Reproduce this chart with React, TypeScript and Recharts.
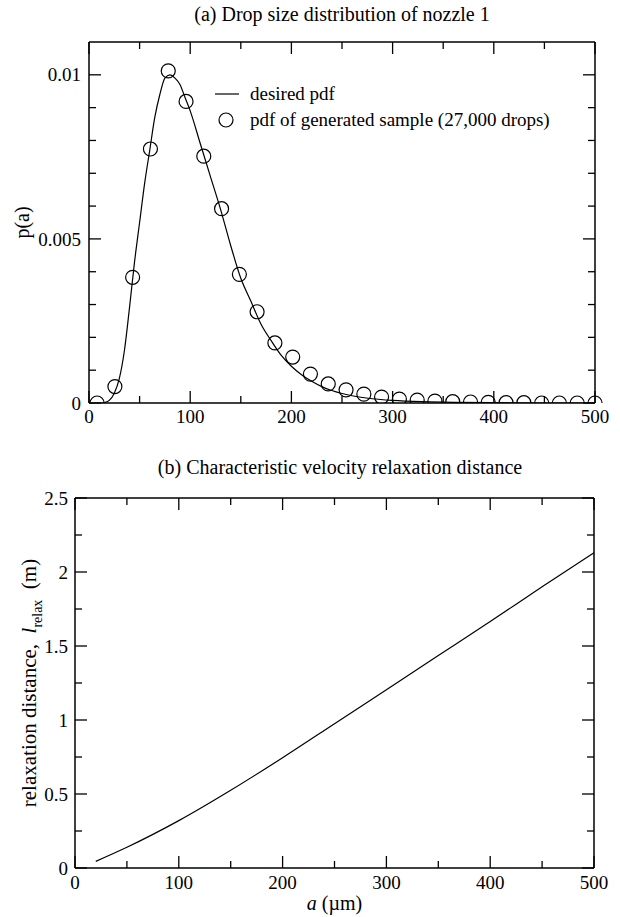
import { ComposedChart, LineChart, Line, Scatter, XAxis, YAxis, Legend } from 'recharts'

// (a) desired pdf curve
const pdfA = [12, 15, 20, 25, 30, 35, 40, 45, 50, 55, 60, 65, 70, 75, 80, 85, 90, 95, 100, 110, 120, 130, 140, 150, 160, 170, 180, 190, 200, 210, 220, 230, 240, 260, 280, 300, 330, 360, 400, 450, 500]
const pdfP = [0, 0.00001, 0.00008, 0.0003, 0.00075, 0.0016, 0.0029, 0.0043, 0.0055, 0.0067, 0.0077, 0.0087, 0.0094, 0.0099, 0.01, 0.0099, 0.0097, 0.0093, 0.0089, 0.0079, 0.0069, 0.0059, 0.0048, 0.0038, 0.0031, 0.0024, 0.0019, 0.00145, 0.00112, 0.00086, 0.00066, 0.0005, 0.00038, 0.00022, 0.00013, 0.00008, 0.00004, 0.00002, 0.00001, 0, 0]

// (a) generated sample, 27,000 drops
const sampleA = [8, 25.6, 43.1, 60.7, 78.3, 95.9, 113.4, 131, 148.6, 166.1, 183.7, 201.3, 218.8, 236.4, 254, 271.6, 289.1, 306.7, 324.3, 341.8, 359.4, 377, 394.5, 412.1, 429.7, 447.3, 464.8, 482.4, 500]
const sampleP = [0, 0.0005, 0.00383, 0.00774, 0.01012, 0.00919, 0.00752, 0.00592, 0.00392, 0.00278, 0.00183, 0.0014, 0.00088, 0.00058, 0.0004, 0.00027, 0.00018, 0.00012, 0.00009, 0.00006, 0.00004, 0.00003, 0.00002, 0.00001, 0.00001, 0, 0, 0, 0]

// (b) relaxation distance
const relaxA = [20, 50, 100, 150, 200, 250, 300, 350, 400, 450, 500]
const relaxL = [0.045, 0.14, 0.32, 0.525, 0.745, 0.975, 1.205, 1.435, 1.665, 1.9, 2.13]

const aTicks = [0, 50, 100, 150, 200, 250, 300, 350, 400, 450, 500]
const pTicks = [0, 0.001, 0.002, 0.003, 0.004, 0.005, 0.006, 0.007, 0.008, 0.009, 0.01]
const lTicks = [0, 0.25, 0.5, 0.75, 1, 1.25, 1.5, 1.75, 2, 2.25, 2.5]

const curveData = pdfA.map((a, i) => ({ a, p: pdfP[i] }))
const sampleData = sampleA.map((a, i) => ({ a, p: sampleP[i] }))
const relaxData = relaxA.map((a, i) => ({ a, l: relaxL[i] }))

const FONT = '"Liberation Serif", "Times New Roman", serif'
const MAJ = 12
const MIN = 7

const isMult = (v: number, step: number) => Math.abs(v / step - Math.round(v / step)) < 1e-6
const fmt = (v: number) => String(Number(v.toFixed(4)))

function tickFactory(side: string, step: number, labels: boolean, gap: number) {
  return (props: any) => {
    const { x, y, payload } = props
    const v = payload.value
    const major = isMult(v, step)
    const len = major ? MAJ : MIN
    let line = null
    let label = null
    if (side === 'bottom') {
      line = <line x1={x} y1={y} x2={x} y2={y - len} stroke="#000" strokeWidth={1.3} />
      if (labels && major) label = <text x={x} y={y + gap} textAnchor="middle" fontFamily={FONT} fontSize={19} fill="#000">{fmt(v)}</text>
    } else if (side === 'top') {
      line = <line x1={x} y1={y} x2={x} y2={y + len} stroke="#000" strokeWidth={1.3} />
    } else if (side === 'left') {
      line = <line x1={x} y1={y} x2={x + len} y2={y} stroke="#000" strokeWidth={1.3} />
      if (labels && major) label = <text x={x - gap} y={y} dy="0.35em" textAnchor="end" fontFamily={FONT} fontSize={19} fill="#000">{fmt(v)}</text>
    } else {
      line = <line x1={x} y1={y} x2={x - len} y2={y} stroke="#000" strokeWidth={1.3} />
    }
    return <g>{line}{label}</g>
  }
}

const axisLine = { stroke: '#000', strokeWidth: 1.5 }

function PdfLegend(props: any) {
  const items = (props.payload || []).filter((it: any) => it.type !== 'none')
    .sort((a: any, b: any) => (a.type === 'line' ? -1 : 1) - (b.type === 'line' ? -1 : 1))
  return (
    <div style={{ fontFamily: FONT, fontSize: 19, color: '#000' }}>
      {items.map((it: any) => (
        <div key={it.value} style={{ display: 'flex', alignItems: 'center', height: 26 }}>
          <svg width={36} height={26}>
            {it.type === 'line'
              ? <line x1={6} y1={13} x2={30} y2={13} stroke="#000" strokeWidth={1.2} />
              : <circle cx={17} cy={13} r={7} fill="none" stroke="#000" strokeWidth={1.2} />}
          </svg>
          <span style={{ marginLeft: 5 }}>{it.value}</span>
        </div>
      ))}
    </div>
  )
}

const SampleCircle = (props: any) => <circle cx={props.cx} cy={props.cy} r={7} fill="none" stroke="#000" strokeWidth={1.2} />

function PLabel(props: any) {
  const { viewBox } = props
  const cx = 22
  const cy = viewBox.y + viewBox.height / 2
  return <text x={cx} y={cy} transform={`rotate(-90, ${cx}, ${cy})`} textAnchor="middle" dy="0.35em" fontFamily={FONT} fontSize={20} fill="#000">p(a)</text>
}

function LLabel(props: any) {
  const { viewBox } = props
  const cx = 29
  const cy = viewBox.y + viewBox.height / 2
  return (
    <text x={cx} y={cy} transform={`rotate(-90, ${cx}, ${cy})`} textAnchor="middle" dy="0.35em" fontFamily={FONT} fontSize={21} fill="#000">
      relaxation distance,{'\u00a0\u00a0'}<tspan fontStyle="italic">l</tspan>
      <tspan fontSize={14} dy="6">relax</tspan>
      <tspan dy="-6">{'\u00a0\u00a0'}(m)</tspan>
    </text>
  )
}

function ALabel(props: any) {
  const { viewBox } = props
  const cx = viewBox.x + viewBox.width / 2
  return (
    <text x={cx} y={viewBox.y + 42} textAnchor="middle" fontFamily={FONT} fontSize={20} fill="#000">
      <tspan fontStyle="italic">a</tspan> (µm)
    </text>
  )
}

const titleStyle: any = { position: 'absolute', textAlign: 'center', fontFamily: FONT, fontSize: 20, color: '#000' }

export default function App() {
  return (
    <div style={{ position: 'absolute', left: 0, top: 0, width: 620, height: 917, background: '#fff' }}>
      <div style={{ ...titleStyle, top: 3, left: 89, width: 506 }}>(a) Drop size distribution of nozzle 1</div>
      <div style={{ position: 'absolute', left: 0, top: 0 }}>
        <ComposedChart width={620} height={450} margin={{ top: 41, right: 24, bottom: 0, left: 0 }}>
          <XAxis dataKey="a" type="number" domain={[0, 500]} ticks={aTicks} interval={0} height={47}
            axisLine={axisLine} tickLine={false} tickSize={0} tickMargin={0} tick={tickFactory('bottom', 100, true, 20)} />
          <XAxis xAxisId="top" dataKey="a" orientation="top" type="number" domain={[0, 500]} ticks={aTicks} interval={0} height={1}
            axisLine={axisLine} tickLine={false} tickSize={0} tickMargin={0} tick={tickFactory('top', 100, false, 0)} />
          <YAxis type="number" domain={[0, 0.011]} ticks={pTicks} interval={0} width={89} allowDataOverflow
            axisLine={axisLine} tickLine={false} tickSize={0} tickMargin={0} tick={tickFactory('left', 0.005, true, 8)}
            label={{ content: PLabel }} />
          <YAxis yAxisId="right" orientation="right" type="number" domain={[0, 0.011]} ticks={pTicks} interval={0} width={1} allowDataOverflow
            axisLine={axisLine} tickLine={false} tickSize={0} tickMargin={0} tick={tickFactory('right', 0.005, false, 0)} />
          <Legend layout="vertical" align="center" verticalAlign="middle" content={PdfLegend}
            wrapperStyle={{ left: 209, top: 81, width: 400 }} />
          <Line data={curveData} dataKey="p" name="desired pdf" type="monotone" stroke="#000" strokeWidth={1.2}
            dot={false} legendType="line" isAnimationActive={false} />
          <Scatter data={sampleData} dataKey="p" name="pdf of generated sample (27,000 drops)" shape={SampleCircle}
            legendType="circle" isAnimationActive={false} />
          <Line data={curveData} dataKey="p" xAxisId="top" yAxisId="right" stroke="none" dot={false}
            legendType="none" isAnimationActive={false} />
        </ComposedChart>
      </div>
      <div style={{ ...titleStyle, top: 456, left: 75, width: 530 }}>(b) Characteristic velocity relaxation distance</div>
      <div style={{ position: 'absolute', left: 0, top: 450 }}>
        <LineChart width={620} height={467} data={relaxData} margin={{ top: 47, right: 25, bottom: 0, left: 0 }}>
          <XAxis dataKey="a" type="number" domain={[0, 500]} ticks={aTicks} interval={0} height={49}
            axisLine={axisLine} tickLine={false} tickSize={0} tickMargin={0} tick={tickFactory('bottom', 100, true, 21)}
            label={{ content: ALabel }} />
          <XAxis xAxisId="top" dataKey="a" orientation="top" type="number" domain={[0, 500]} ticks={aTicks} interval={0} height={1}
            axisLine={axisLine} tickLine={false} tickSize={0} tickMargin={0} tick={tickFactory('top', 100, false, 0)} />
          <YAxis type="number" domain={[0, 2.5]} ticks={lTicks} interval={0} width={75}
            axisLine={axisLine} tickLine={false} tickSize={0} tickMargin={0} tick={tickFactory('left', 0.5, true, 7)}
            label={{ content: LLabel }} />
          <YAxis yAxisId="right" orientation="right" type="number" domain={[0, 2.5]} ticks={lTicks} interval={0} width={1}
            axisLine={axisLine} tickLine={false} tickSize={0} tickMargin={0} tick={tickFactory('right', 0.5, false, 0)} />
          <Line dataKey="l" type="monotone" stroke="#000" strokeWidth={1.2} dot={false} isAnimationActive={false} />
          <Line dataKey="l" xAxisId="top" yAxisId="right" stroke="none" dot={false} legendType="none" isAnimationActive={false} />
        </LineChart>
      </div>
    </div>
  )
}
